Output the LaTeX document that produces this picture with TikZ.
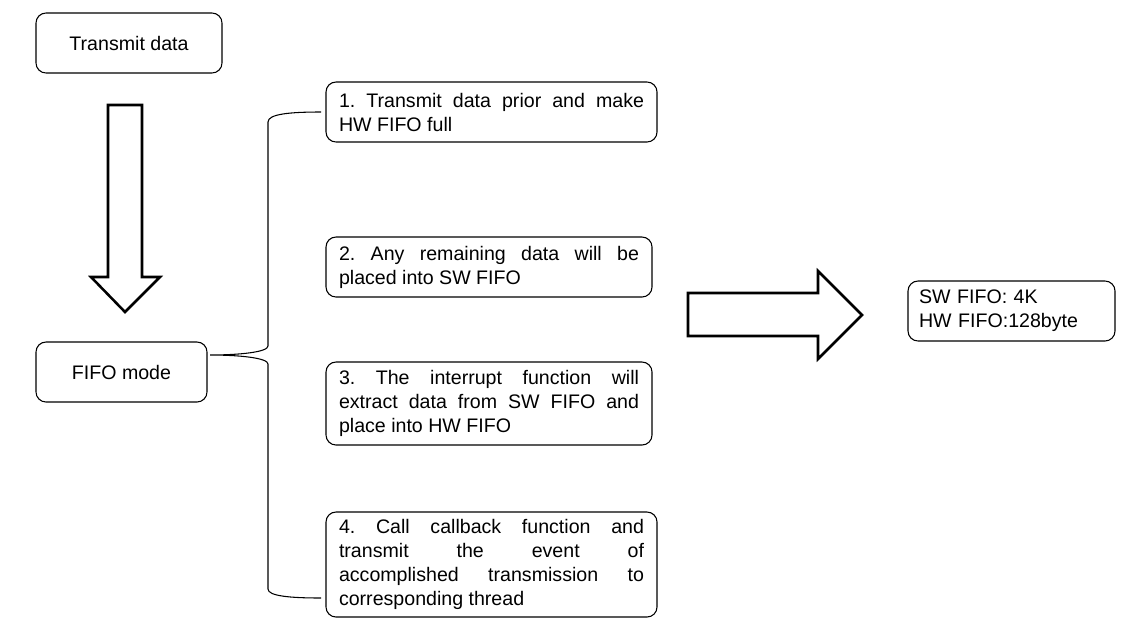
\documentclass[tikz,border=0pt]{standalone}
\usepackage{fontspec}
\setmainfont{Liberation Sans}
\hyphenpenalty=10000
\exhyphenpenalty=10000
\frenchspacing
\begin{document}
\begin{tikzpicture}[x=0.75pt,y=-0.75pt,
  box/.style={draw,rounded corners=7.5pt,line width=0.8pt,inner sep=0pt,
    font=\fontsize{14.7}{18}\selectfont},
  stepbox/.style={box,align=justify,inner xsep=9.75pt},
  fatarrow/.style={draw,line width=1.9pt,line join=miter}]
\useasboundingbox (0,0) rectangle (1126,629);

\node[box,minimum width=139.5pt,minimum height=45pt] (send) at (129,43) {Transmit data};
\node[box,minimum width=128.25pt,minimum height=45pt] (fifo) at (121.5,372) {FIFO mode};

\node[stepbox,text width=228.75pt,minimum height=45pt] (s1) at (491.5,112)
  {1. Transmit data prior and make\linebreak HW FIFO full};
\node[stepbox,text width=225pt,minimum height=45pt] (s2) at (489,267)
  {2. Any remaining data will be\linebreak placed into SW FIFO};
\node[stepbox,text width=225pt,minimum height=62.25pt] (s3) at (489,403.5)
  {3. The interrupt function will\linebreak extract data from SW FIFO and\linebreak place into HW FIFO};
\node[stepbox,text width=228.75pt,minimum height=78.75pt] (s4) at (491.5,564.5)
  {4. Call callback function and\linebreak transmit the event of\linebreak accomplished transmission to\linebreak corresponding thread};

\node[box,align=left,text width=138.75pt,inner xsep=8.25pt,minimum height=45pt] (size) at (1011.5,311)
  {SW FIFO: 4K\\HW FIFO:128byte};

% block arrows
\path[fatarrow] (108,105) -- (142,105) -- (142,277) -- (160,277) -- (125,312)
  -- (91,277) -- (108,277) -- cycle;
\path[fatarrow] (688,293) -- (818,293) -- (818,271) -- (862,315) -- (818,359)
  -- (818,336) -- (688,336) -- cycle;

% brace
\coordinate (tip) at (210,355);
\draw[line width=0.8pt] (321,112) .. controls (290,112) and (268,114) .. (268,122)
  -- (268,346) .. controls (268,352) and (240,355) .. (tip)
  .. controls (240,355) and (268,358) .. (268,364)
  -- (268,589) .. controls (268,596) and (290,598) .. (321,598);
\end{tikzpicture}
\end{document}
